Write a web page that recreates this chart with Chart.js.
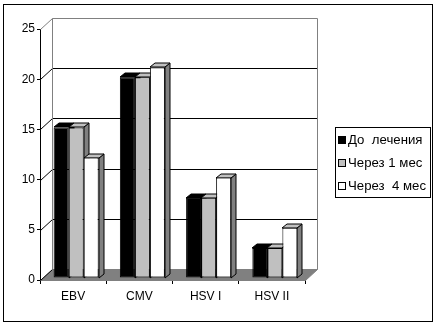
<!DOCTYPE html>
<html><head><meta charset="utf-8">
<script src="https://cdn.jsdelivr.net/npm/chart.js@4/dist/chart.umd.min.js"></script>
<style>html,body{margin:0;padding:0;background:#fff}#wrap{width:437px;height:326px}</style>
</head><body><div id="wrap"><canvas id="c" width="437" height="326"></canvas></div>
<script>
const categories = ['EBV', 'CMV', 'HSV I', 'HSV II'];
const seriesNames = ['До  лечения', 'Через 1 мес', 'Через  4 мес'];
const beforeTreatment = [15, 20, 8, 3];
const after1Month = [15, 20, 8, 3];
const after4Months = [12, 21, 10, 5];
const yTickValues = [0, 5, 10, 15, 20, 25];

const frontColors = ['#000000', '#c0c0c0', '#ffffff'];
const topColors = ['#000000', '#c0c0c0', '#c0c0c0'];
const sideColors = ['#000000', '#808080', '#808080'];
const FONT = 'Liberation Sans, Arial, sans-serif';

const WX = 12, WY = 11;   // back wall depth offset
const BX = 3, BY = -2;    // bar front plane offset
const DX = 5, DY = 4;     // bar depth

function poly(ctx, pts, fill, stroke) {
  ctx.beginPath();
  ctx.moveTo(pts[0][0], pts[0][1]);
  for (let i = 1; i < pts.length; i++) ctx.lineTo(pts[i][0], pts[i][1]);
  ctx.closePath();
  if (fill) { ctx.fillStyle = fill; ctx.fill(); }
  if (stroke) { ctx.strokeStyle = stroke; ctx.lineWidth = 1; ctx.stroke(); }
}
function line(ctx, x1, y1, x2, y2, color) {
  ctx.beginPath(); ctx.moveTo(x1, y1); ctx.lineTo(x2, y2);
  ctx.strokeStyle = color; ctx.lineWidth = 1; ctx.stroke();
}

const threeD = {
  id: 'threeD',
  beforeDatasetsDraw(chart) {
    const ctx = chart.ctx, ys = chart.scales.y, a = chart.chartArea;
    ctx.save();
    const L = Math.round(a.left) + 0.5, R = Math.round(a.right) + 0.5;
    const B = Math.round(ys.getPixelForValue(0)) + 0.5;
    // floor
    poly(ctx, [[L, B], [R, B], [R + WX, B - WY], [L + WX, B - WY]], '#808080', '#808080');
    // back wall grid lines
    yTickValues.forEach(v => {
      const py = Math.round(ys.getPixelForValue(v)) + 0.5;
      const last = v === yTickValues[yTickValues.length - 1];
      if (v > 0) line(ctx, L + WX, py - WY, R + WX, py - WY, last ? '#808080' : '#000000');
      line(ctx, L, py, L + WX, py - WY, last ? '#808080' : '#000000');
    });
    const T = Math.round(ys.getPixelForValue(25)) + 0.5;
    line(ctx, L + WX, T - WY, L + WX, B - WY, '#808080');
    line(ctx, R + WX, T - WY, R + WX, B - WY, '#808080');
    // bar sides and tops
    const n = chart.data.labels.length;
    for (let i = 0; i < n; i++) {
      chart.data.datasets.forEach((ds, d) => {
        const el = chart.getDatasetMeta(d).data[i];
        const p = el.getProps(['x', 'y', 'base', 'width'], true);
        const x1 = Math.round(p.x - p.width / 2 + BX), x2 = Math.round(p.x + p.width / 2 + BX);
        const yt = Math.round(p.y + BY), yb = Math.round(p.base + BY);
        poly(ctx, [[x2, yb], [x2, yt], [x2 + DX, yt - DY], [x2 + DX, yb - DY]], sideColors[d], '#000000');
        poly(ctx, [[x1, yt], [x2, yt], [x2 + DX, yt - DY], [x1 + DX, yt - DY]], topColors[d], '#000000');
      });
    }
    ctx.restore();
    ctx.save();
    ctx.translate(BX, BY);
  },
  afterDatasetsDraw(chart) {
    chart.ctx.restore();
  },
  afterDraw(chart) {
    const ctx = chart.ctx;
    ctx.save();
    // legend
    ctx.strokeStyle = '#000'; ctx.lineWidth = 1;
    ctx.strokeRect(335.5, 127.5, 95, 70);
    ctx.font = '12px ' + FONT;
    ctx.textBaseline = 'middle'; ctx.textAlign = 'left';
    const widest = Math.max(...chart.data.datasets.map(ds => ctx.measureText(ds.label).width));
    const sx = 78 / widest;
    chart.data.datasets.forEach((ds, d) => {
      const cy = 140 + d * 23;
      ctx.fillStyle = frontColors[d];
      ctx.fillRect(338.5, cy - 3.5, 7, 7);
      ctx.strokeRect(338.5, cy - 3.5, 7, 7);
      ctx.fillStyle = '#000';
      ctx.save();
      ctx.translate(348, cy + 0.5);
      ctx.scale(sx, 1);
      ctx.fillText(ds.label, 0, 0);
      ctx.restore();
    });
    // outer border
    ctx.strokeRect(3.5, 4.5, 429, 317);
    ctx.restore();
  }
};

new Chart(document.getElementById('c'), {
  type: 'bar',
  data: {
    labels: categories,
    datasets: [
      { label: seriesNames[0], data: beforeTreatment, backgroundColor: frontColors[0] },
      { label: seriesNames[1], data: after1Month, backgroundColor: frontColors[1] },
      { label: seriesNames[2], data: after4Months, backgroundColor: frontColors[2] }
    ]
  },
  options: {
    responsive: false,
    animation: false,
    devicePixelRatio: 1,
    layout: { padding: { left: 0, top: 29, right: 132, bottom: 20 } },
    datasets: { bar: { borderColor: '#000', borderWidth: 1, borderSkipped: false, barPercentage: 1, categoryPercentage: 0.68 } },
    plugins: { legend: { display: false }, tooltip: { enabled: false } },
    scales: {
      x: {
        grid: { drawOnChartArea: false, drawTicks: true, tickLength: 4, color: '#000', offset: true },
        border: { color: '#000' },
        ticks: { color: '#000', font: { family: FONT, size: 12 }, padding: 5, maxRotation: 0 },
        afterFit(s) { s.height = 26; }
      },
      y: {
        min: 0, max: 25,
        afterBuildTicks(s) { s.ticks = yTickValues.map(v => ({ value: v })); },
        grid: { drawOnChartArea: false, drawTicks: true, tickLength: 3, color: '#000' },
        border: { color: '#000' },
        ticks: { color: '#000', font: { family: FONT, size: 12 }, padding: 2 },
        afterFit(s) { s.width = 40; }
      }
    }
  },
  plugins: [threeD]
});
</script>
</body></html>
